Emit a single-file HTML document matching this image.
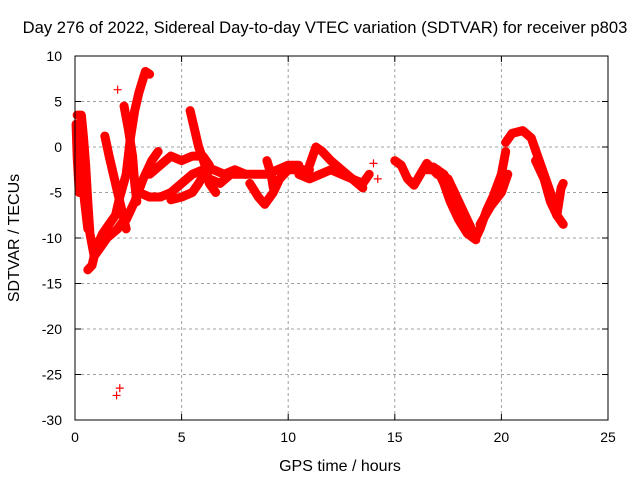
<!DOCTYPE html>
<html><head><meta charset="utf-8"><style>
body{margin:0;background:#fff}
svg{display:block;font-family:"Liberation Sans",sans-serif}
</style></head><body>
<svg id="chart" width="640" height="480">
<rect width="640" height="480" fill="#fff"/>
<text x="325" y="33" text-anchor="middle" font-size="16.6">Day 276 of 2022, Sidereal Day-to-day VTEC variation (SDTVAR) for receiver p803</text>
<text x="340" y="471" text-anchor="middle" font-size="16">GPS time / hours</text>
<text transform="translate(19,238) rotate(-90)" text-anchor="middle" font-size="16">SDTVAR / TECUs</text>
<g id="grid"></g><g id="marks"></g>
<rect x="75" y="56" width="533" height="364" fill="none" stroke="#000" stroke-width="1"/>
</svg>
<script>
const xTicks=[0,5,10,15,20,25];
const yTicks=[10,5,0,-5,-10,-15,-20,-25,-30];
const trackA=[[0.6,-13.5],[0.8,-13],[1.0,-11],[1.3,-9.5],[1.6,-8.5],[1.9,-7.5],[2.1,-5.5],[2.4,-3],[2.6,1],[2.8,4],[3.0,6],[3.3,8.3],[3.5,8]];
const trackB=[[0.1,3.5],[0.3,3.5],[0.4,1],[0.5,-2],[0.6,-6],[0.7,-9.5],[0.9,-12],[1.2,-11],[1.5,-10],[2.0,-9],[2.3,-8]];
const trackC=[[0.05,2.5],[0.1,-1],[0.15,-3],[0.2,-5],[0.3,-2],[0.45,-6],[0.6,-9]];
const trackD=[[1.4,1.2],[1.6,-1],[1.8,-3],[2.0,-5],[2.2,-7],[2.4,-9]];
const trackE=[[2.3,4.5],[2.5,2],[2.7,-1],[2.8,-4],[2.9,-6]];
const trackF=[[2.4,-8],[2.8,-6],[3.2,-3.5],[3.6,-1.5],[3.9,-0.5]];
const trackG=[[3,-5],[3.5,-5.5],[4,-5.5],[4.5,-5],[5,-4],[5.5,-3],[6,-2.5],[6.5,-2.5],[7,-3],[7.5,-2.5],[8,-3]];
const trackH=[[3.5,-3],[4,-2],[4.5,-1],[5,-1.5],[5.5,-1],[6,-1],[6.3,-2],[5.8,-4],[5.5,-5],[5,-5.5],[4.5,-5.8]];
const trackI=[[5.4,4],[5.6,2],[5.8,0],[6.1,-2],[6.3,-4],[6.6,-5]];
const trackJ=[[6.3,-3.5],[6.8,-4],[7.3,-3],[8,-3],[8.5,-3],[9,-3],[9.5,-2.5],[10,-2],[10.5,-2]];
const trackK=[[8.2,-4],[8.6,-5.5],[8.9,-6.3],[9.3,-5],[9.6,-3.5],[10,-2.5],[10.5,-2.5],[11,-2.5]];
const trackL=[[9,-1.5],[9.2,-3],[9.3,-4.5]];
const trackM=[[11,-2],[11.3,0],[11.6,-0.5],[12,-1.5],[12.5,-2.5],[13,-3.5],[13.5,-4],[13.8,-3]];
const trackN=[[10.5,-3],[11,-3.5],[11.5,-3],[12,-2.5],[12.5,-3],[13,-3.5],[13.5,-4.5]];
const trackO=[[15,-1.5],[15.3,-2],[15.6,-3.5],[15.9,-4.2],[16.2,-3],[16.5,-1.8],[17,-3],[17.5,-3.5],[18,-6],[18.5,-8.5],[18.8,-10],[19,-9],[19.3,-7],[19.6,-5.5],[20,-3],[20.2,-0.5]];
const trackP=[[16.5,-2.5],[17,-2.5],[17.3,-4],[17.6,-6],[18,-8],[18.4,-9.5],[18.8,-10.2]];
const trackP2=[[16.8,-2.2],[17.3,-3],[17.8,-5],[18.2,-7.5],[18.6,-9.2]];
const trackQ=[[19,-8.5],[19.5,-6.5],[20,-5],[20.3,-3]];
const trackR=[[20.2,0.5],[20.5,1.5],[21,1.8],[21.4,1],[21.7,-1],[22,-3],[22.3,-5],[22.6,-7.5],[22.9,-8.5]];
const trackS=[[21.6,-1.5],[22,-3.5],[22.3,-6],[22.6,-7.5],[22.8,-4.5],[22.9,-4]];
const outliers=[[1.95,-27.3],[2.1,-26.5],[2.0,6.3],[14,-1.8],[14.2,-3.5]];
const tracks=[trackA,trackB,trackC,trackD,trackE,trackF,trackG,trackH,trackI,trackJ,trackK,trackL,trackM,trackN,trackO,trackP,trackP2,trackQ,trackR,trackS];

const X0=75,X1=608,Y0=420,Y1=56;
function xs(v){return X0+(v-0)/(25-0)*(X1-X0);}
function ys(v){return Y0-(v+30)/(40)*(Y0-Y1);}
const NS="http://www.w3.org/2000/svg";
const grid=document.getElementById('grid'),marks=document.getElementById('marks');
function mk(t,a,p){const e=document.createElementNS(NS,t);for(const k in a)e.setAttribute(k,a[k]);p.appendChild(e);return e;}
xTicks.forEach(t=>{
  const x=xs(t);
  if(t>0&&t<25){const g=mk('line',{x1:x,x2:x,y1:Y0,y2:Y1,stroke:'#a0a0a0','stroke-dasharray':'3,3'},grid);
  
  }
  mk('line',{x1:x,x2:x,y1:Y0,y2:Y0-6,stroke:'#000'},grid);
  mk('line',{x1:x,x2:x,y1:Y1,y2:Y1+6,stroke:'#000'},grid);
  const l=mk('text',{x:x,y:Y0+22,'text-anchor':'middle','font-size':14},grid);l.textContent=t;
  
  
});
yTicks.forEach(t=>{
  const y=ys(t);
  if(t>-30&&t<10){const g=mk('line',{x1:X0,x2:X1,y1:y,y2:y,stroke:'#a0a0a0','stroke-dasharray':'3,3'},grid);
  
  }
  mk('line',{x1:X0,x2:X0+6,y1:y,y2:y,stroke:'#000'},grid);
  mk('line',{x1:X1,x2:X1-6,y1:y,y2:y,stroke:'#000'},grid);
  const l=mk('text',{x:X0-13,y:y+5,'text-anchor':'end','font-size':14},grid);l.textContent=t;
  
  
});
function plus(x,y,name){
  const p=mk('path',{d:`M${x-4},${y}H${x+4}M${x},${y-4}V${y+4}`,stroke:'#f00','stroke-width':1.2},marks);
  
  
}
tracks.forEach((tr,i)=>{
  const pl=mk('polyline',{points:tr.map(p=>xs(p[0])+','+ys(p[1])).join(' '),fill:'none',stroke:'#f00','stroke-width':9,'stroke-linejoin':'round','stroke-linecap':'round'},marks);
  
  
  tr.forEach(p=>plus(xs(p[0]),ys(p[1]),'data-point'));
});
outliers.forEach(p=>plus(xs(p[0]),ys(p[1]),'outlier-point'));
</script>
</body></html>
